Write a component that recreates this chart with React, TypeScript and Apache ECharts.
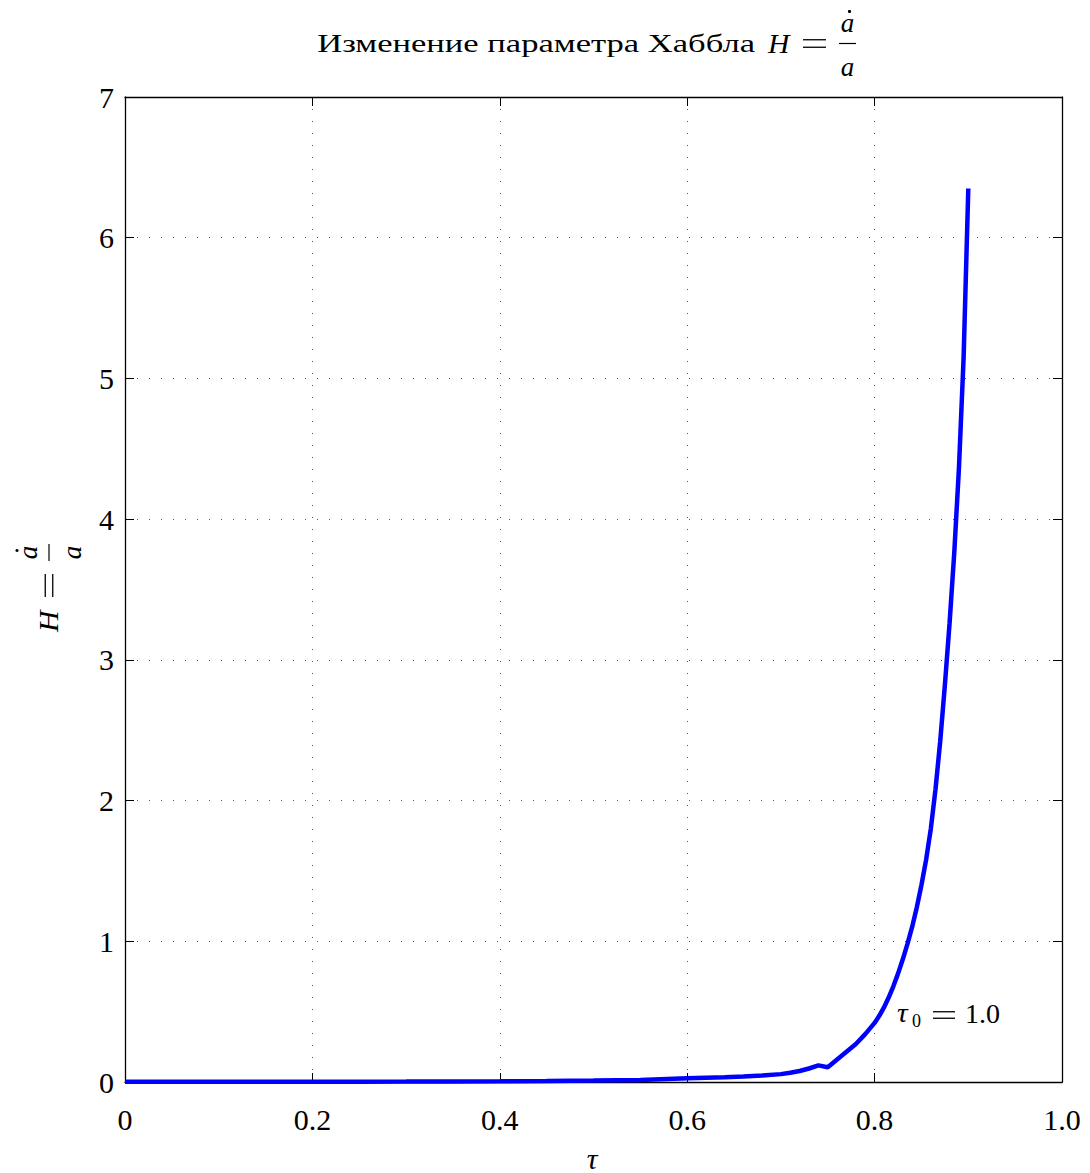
import React, { useEffect, useRef } from "react";
import * as echarts from "echarts";

const tau = [0, 0.05, 0.1, 0.15, 0.2, 0.25, 0.3, 0.35, 0.4, 0.45, 0.5, 0.55, 0.6, 0.62, 0.64, 0.66, 0.68, 0.7, 0.71, 0.72, 0.73, 0.74, 0.75, 0.76, 0.77, 0.78, 0.79, 0.8, 0.805, 0.81, 0.815, 0.82, 0.825, 0.83, 0.835, 0.84, 0.845, 0.85, 0.855, 0.86, 0.865, 0.87, 0.875, 0.88, 0.885, 0.89, 0.895, 0.9];
const hubble = [0.001, 0.001, 0.0012, 0.0015, 0.002, 0.0025, 0.003, 0.004, 0.005, 0.007, 0.01, 0.014, 0.026, 0.03, 0.034, 0.039, 0.046, 0.056, 0.066, 0.078, 0.096, 0.118, 0.105, 0.16, 0.215, 0.27, 0.34, 0.42, 0.47, 0.53, 0.6, 0.68, 0.77, 0.87, 0.98, 1.1, 1.24, 1.4, 1.58, 1.8, 2.08, 2.42, 2.82, 3.26, 3.76, 4.36, 5.15, 6.35];

const xTickLabels = ["0", "0.2", "0.4", "0.6", "0.8", "1.0"];
const yTickLabels = ["0", "1", "2", "3", "4", "5", "6", "7"];

const titleText = "Изменение параметра Хаббла";
const annotation = { tauSym: "τ", sub: "0", val: "1.0" };

const FONT = "Liberation Serif";

function txt(x: number, y: number, text: string, size: number, italic: boolean, align = "center", valign = "middle", extra: any = {}) {
  return {
    type: "text",
    x,
    y,
    ...extra,
    style: {
      text,
      fontFamily: FONT,
      fontSize: size,
      fontStyle: italic ? "italic" : "normal",
      fill: "#000",
      align,
      verticalAlign: valign,
      textAlign: align,
      textVerticalAlign: valign,
    },
  };
}

function eqSign(x1: number, x2: number, cy: number, gap: number) {
  return [
    { type: "line", shape: { x1, y1: cy - gap / 2, x2, y2: cy - gap / 2 }, style: { stroke: "#000", lineWidth: 1.3 } },
    { type: "line", shape: { x1, y1: cy + gap / 2, x2, y2: cy + gap / 2 }, style: { stroke: "#000", lineWidth: 1.3 } },
  ];
}

// H = ȧ / a, origin at the left of H, on the math axis
function mathFormula() {
  return [
    txt(0, 0, "H", 27, true, "left", "middle", { scaleX: 1.1 }),
    ...eqSign(35, 58, 0, 7.5),
    { type: "line", shape: { x1: 71, y1: 0, x2: 88, y2: 0 }, style: { stroke: "#000", lineWidth: 1.2 } },
    txt(79.5, -21, "a", 27, true, "center", "middle"),
    { type: "circle", shape: { cx: 81.5, cy: -32, r: 1.6 }, style: { fill: "#000" } },
    txt(79.5, 23, "a", 27, true, "center", "middle"),
  ];
}

export default function App() {
  const ref = useRef<HTMLDivElement>(null);
  useEffect(() => {
    if (!ref.current) return;
    const chart = echarts.init(ref.current, undefined, { renderer: "svg" });
    const axisLine = { show: true, onZero: false, lineStyle: { color: "#000", width: 1.3 } };
    const axisTick = { show: true, inside: true, length: 9, lineStyle: { color: "#000", width: 1 } };
    const labelStyle = { fontFamily: FONT, fontSize: 30, color: "#000" };
    const split = { show: true, lineStyle: { type: [1, 11], color: "#555", width: 1 } };
    chart.setOption({
      animation: false,
      backgroundColor: "#fff",
      grid: { left: 125, right: 28, top: 97, bottom: 91, containLabel: false },
      xAxis: [
        {
          type: "value", min: 0, max: 1, interval: 0.2, position: "bottom",
          axisLine, axisTick,
          axisLabel: { ...labelStyle, margin: 22, showMinLabel: true, showMaxLabel: true,
            formatter: (v: number) => xTickLabels[Math.round(v / 0.2)] ?? "" },
          splitLine: split,
        },
        {
          type: "value", min: 0, max: 1, interval: 0.2, position: "top",
          axisLine, axisTick, axisLabel: { show: false }, splitLine: { show: false },
        },
      ],
      yAxis: [
        {
          type: "value", min: 0, max: 7, interval: 1, position: "left",
          axisLine, axisTick,
          axisLabel: { ...labelStyle, margin: 11, formatter: (v: number) => yTickLabels[Math.round(v)] ?? "" },
          splitLine: split,
        },
        {
          type: "value", min: 0, max: 7, interval: 1, position: "right",
          axisLine, axisTick, axisLabel: { show: false }, splitLine: { show: false },
        },
      ],
      series: [
        {
          type: "line",
          xAxisIndex: 0,
          yAxisIndex: 0,
          showSymbol: false,
          symbol: "none",
          lineStyle: { color: "#0000ff", width: 4.5 },
          data: tau.map((t, i) => [t, hubble[i]]),
        },
      ],
      graphic: [
        txt(755, 43.5, titleText, 26, false, "right", "middle", { scaleX: 1.33 }),
        { type: "group", x: 768, y: 43.5, children: mathFormula() },
        { type: "group", x: 49, y: 632, rotation: Math.PI / 2, children: mathFormula() },
        txt(592, 1173, "τ", 30, true, "center", "bottom"),
        txt(897, 1013, annotation.tauSym, 27, true, "left", "middle", { scaleX: 1.1 }),
        txt(912, 1021, annotation.sub, 18, false, "left", "middle"),
        ...eqSign(933, 955, 1015, 6.5),
        txt(965, 1013, annotation.val, 28, false, "left", "middle"),
      ],
    });
    return () => chart.dispose();
  }, []);
  return <div ref={ref} style={{ position: "fixed", left: 0, top: 0, width: 1090, height: 1173 }} />;
}
